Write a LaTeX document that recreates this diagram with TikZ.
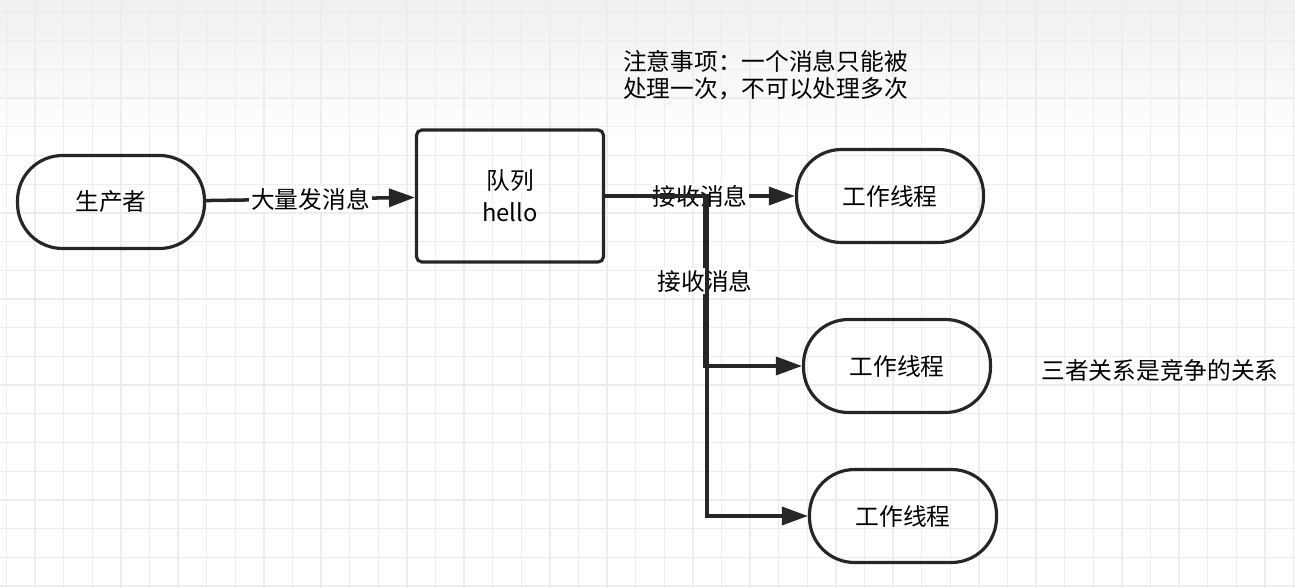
\documentclass[tikz,border=0pt]{standalone}
\usepackage{fontspec}
\setmainfont{Noto Sans CJK SC}
\usetikzlibrary{arrows.meta,positioning}

\begin{document}
\begin{tikzpicture}[x=0.02cm,y=-0.02cm,>={Triangle[length=0.52cm,width=0.36cm]},
	font=\fontsize{13.5}{16}\selectfont,
	pill/.style={draw,line width=1.8pt,color=black!85,text=black,rounded corners=0.9cm,minimum width=3.74cm,minimum height=1.86cm},
	box/.style={draw,line width=1.8pt,color=black!85,text=black,rounded corners=3pt,minimum width=3.74cm,minimum height=2.64cm,align=center},
	flow/.style={->,line width=2pt,color=black!85},
	lbl/.style={fill=white,inner sep=1pt,text=black}]

\useasboundingbox (0,0) rectangle (1295,588);

\def\gx{28.6}
\def\gy{28.7}

\shade[top color=black!6,bottom color=white] (0,0) rectangle (1295,140);
\foreach \i in {0,...,45}{
	\draw[black!7,line width=0.7pt] ({6.5+\gx*\i},0)--({6.5+\gx*\i},588);
}
\foreach \j in {0,...,20}{
	\draw[black!7,line width=0.7pt] (0,{12+\gy*\j})--(1295,{12+\gy*\j});
}

\node[pill] (prod) at (111,202) {生产者};
\node[box,font=\fontsize{13.5}{18}\selectfont] (queue) at (510,196) {队列\\hello};
\node[pill] (w1) at (890,196) {工作线程};
\node[pill] (w2) at (897,366) {工作线程};
\node[pill] (w3) at (903,516) {工作线程};

\node[anchor=west,align=left,font=\fontsize{13.5}{15.5}\selectfont] (note) at (617,75)
	{注意事项：一个消息只能被\\处理一次，不可以处理多次};
\node (rel) at (1160,370) {三者关系是竞争的关系};

\coordinate (s2) at (705,196);
\coordinate (s3) at (707,196);

\draw[flow] (prod) -- node[lbl] {大量发消息} (queue);
\draw[flow] (queue.east) -- node[lbl] {接收消息} (w1.west);
\draw[flow] (queue.east) -- (s2) |- node[lbl,pos=0.25] {接收消息} (w2.west);
\draw[flow] (queue.east) -- (s3) |- (w3.west);
%\draw[flow] (queue.east) -| (w3.west);

\end{tikzpicture}
\end{document}
